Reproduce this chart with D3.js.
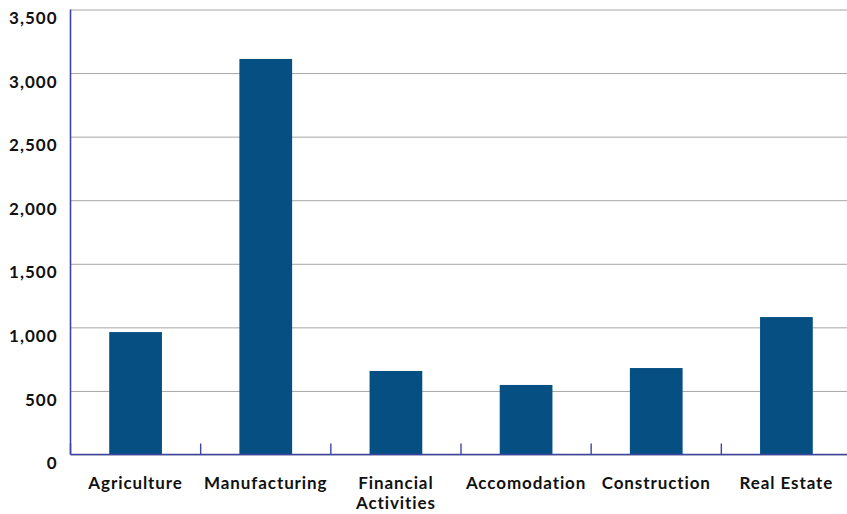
<!DOCTYPE html>
<html lang="en">
<head>
	<meta charset="UTF-8">
	<title>Industry bars</title>
	<script src="https://d3js.org/d3.v7.min.js" charset="utf-8"></script>
	<style>
		body { margin: 0; background: #fff; }
		text { font-family: Lato, "Open Sans", sans-serif; font-weight: 700; fill: #111; }
	</style>
</head>
<body>
	<svg></svg>
	<script>
		const categories = ['Agriculture', 'Manufacturing', 'Financial Activities', 'Accomodation', 'Construction', 'Real Estate']
		const values = [963, 3111, 657, 547, 680, 1081]
		const yTicks = [0, 500, 1000, 1500, 2000, 2500, 3000, 3500]

		const width = 847, height = 514
		const plotLeft = 70.5, plotRight = 851.5, plotTop = 9.5, plotBottom = 454.5

		let svg = d3.select('svg')
			.attr('width', width)
			.attr('height', height)

		let x = d3.scaleBand()
			.domain(categories)
			.range([plotLeft, plotRight])
			.padding(0)

		let y = d3.scaleLinear()
			.domain([0, 3500])
			.range([plotBottom, plotTop])

		// gridlines + y labels
		let yAxis = svg.append('g')
			.attr('transform', `translate(${plotLeft},0)`)
			.call(d3.axisLeft(y).tickValues(yTicks).tickSize(-(plotRight - plotLeft)).tickFormat(d3.format(',')).tickPadding(13))
		yAxis.select('.domain').remove()
		yAxis.selectAll('line').attr('stroke', '#a6a6a6').attr('stroke-width', 1)
		yAxis.selectAll('text')
			.attr('font-size', 17)
			.attr('letter-spacing', 1)
			.attr('dy', '0.92em')
			.attr('y', -1.5)
			.style('font-family', 'Lato, sans-serif')

		// bars
		let barW = x.bandwidth() * 0.405
		svg.selectAll('rect.bar')
			.data(values)
			.join('rect')
			.attr('class', 'bar')
			.attr('x', (d, i) => x(categories[i]) + (x.bandwidth() - barW) / 2)
			.attr('y', d => y(d))
			.attr('width', barW)
			.attr('height', d => y(0) - y(d))
			.attr('fill', '#054f82')

		// axes lines
		const axisColor = '#3c45a4'
		svg.append('line')
			.attr('x1', plotLeft).attr('x2', plotLeft)
			.attr('y1', plotTop).attr('y2', plotBottom)
			.attr('stroke', axisColor).attr('stroke-width', 1.6)
		svg.append('line')
			.attr('x1', plotLeft).attr('x2', plotRight)
			.attr('y1', plotBottom).attr('y2', plotBottom)
			.attr('stroke', axisColor).attr('stroke-width', 1.6)
		svg.selectAll('line.tick-mark')
			.data(categories)
			.join('line')
			.attr('class', 'tick-mark')
			.attr('x1', d => x(d)).attr('x2', d => x(d))
			.attr('y1', plotBottom).attr('y2', plotBottom - 11)
			.attr('stroke', axisColor).attr('stroke-width', 1.4)

		// x labels
		svg.selectAll('text.xlab')
			.data(categories)
			.join('text')
			.attr('class', 'xlab')
			.attr('text-anchor', 'middle')
			.attr('font-size', 17)
			.attr('letter-spacing', 0.9)
			.attr('transform', d => `translate(${x(d) + x.bandwidth() / 2},${489})`)
			.each(function (d) {
				let words = d === 'Financial Activities' ? ['Financial', 'Activities'] : [d]
				d3.select(this).selectAll('tspan')
					.data(words)
					.join('tspan')
					.attr('x', 0)
					.attr('dy', (w, i) => i === 0 ? 0 : 20)
					.text(w => w)
			})
	</script>
</body>
</html>
